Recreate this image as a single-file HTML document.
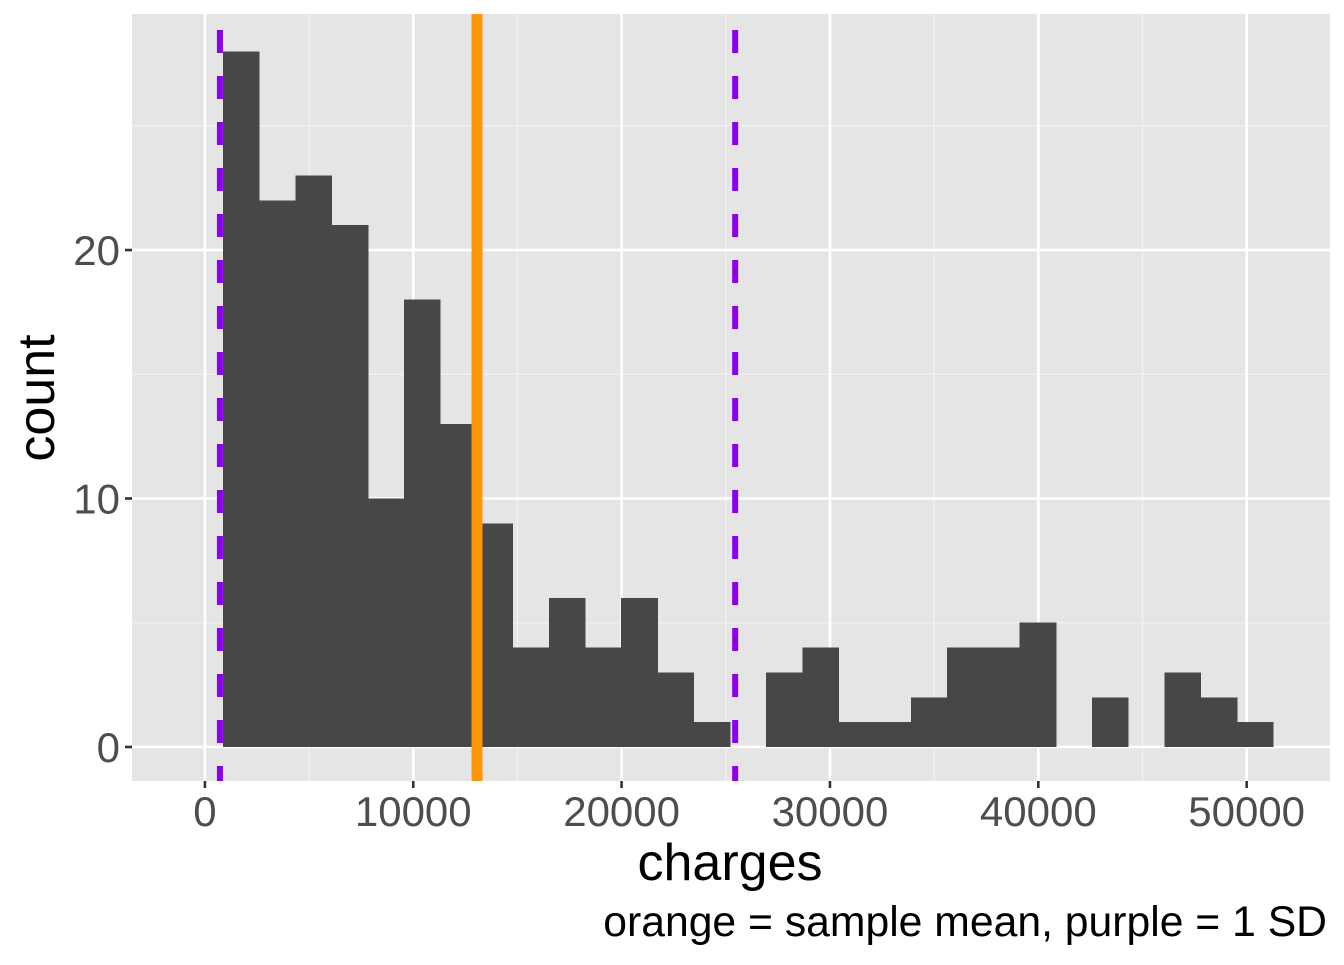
<!DOCTYPE html>
<html><head><meta charset="utf-8"><style>
body{margin:0;background:#fff;}
svg text{font-family:"Liberation Sans",Arial,sans-serif;}
</style></head><body>
<svg id="chart" width="1344" height="960" xmlns="http://www.w3.org/2000/svg">
<rect x="132" y="14" width="1198" height="767" fill="#e5e5e5"/>
<g id="grid"></g><g id="bars" shape-rendering="crispEdges"></g><g id="lines"></g><g id="axes"></g>
<text x="730" y="880" font-size="52" text-anchor="middle" fill="#000">charges</text>
<text transform="translate(54,398) rotate(-90)" font-size="52" text-anchor="middle" fill="#000">count</text>
<text x="1327" y="936" font-size="42.7" text-anchor="end" fill="#000">orange = sample mean, purple = 1 SD</text>
</svg>
<script>
const binStart = 864;
const binWidth = 1738;
const counts = [28,22,23,21,10,18,13,9,4,6,4,6,3,1,0,3,4,1,1,2,4,4,5,0,2,0,3,2,1];
const meanValue = 13060;
const sdLow = 720;
const sdHigh = 25450;
const xTicks = [0,10000,20000,30000,40000,50000];
const xMinor = [5000,15000,25000,35000,45000];
const yTicks = [0,10,20];
const yMinor = [5,15,25];

const NS="http://www.w3.org/2000/svg";
const X0=132,X1=1330,Y0=14,Y1=781;
const xMin=-3500,xMax=54000,yMin=-1.37,yMax=29.5;
const sx=v=>X0+(v-xMin)/(xMax-xMin)*(X1-X0);
const sy=v=>Y1-(v-yMin)/(yMax-yMin)*(Y1-Y0);
function mk(tag,attrs,parent){const e=document.createElementNS(NS,tag);for(const k in attrs)e.setAttribute(k,attrs[k]);document.getElementById(parent).appendChild(e);return e;}
xMinor.forEach(v=>{const e=mk('line',{x1:sx(v),x2:sx(v),y1:Y0,y2:Y1,stroke:'#f2f2f2','stroke-width':1.3},'grid');

});
yMinor.forEach(v=>{const e=mk('line',{x1:X0,x2:X1,y1:sy(v),y2:sy(v),stroke:'#f2f2f2','stroke-width':1.3},'grid');

});
xTicks.forEach(v=>{const e=mk('line',{x1:sx(v),x2:sx(v),y1:Y0,y2:Y1,stroke:'#fff','stroke-width':2.6},'grid');


const t=mk('line',{x1:sx(v),x2:sx(v),y1:Y1,y2:Y1+7,stroke:'#333','stroke-width':2.6},'axes');


const l=mk('text',{x:sx(v),y:826,'font-size':42,'text-anchor':'middle',fill:'#4d4d4d'},'axes');l.textContent=v;

});
yTicks.forEach(v=>{const e=mk('line',{x1:X0,x2:X1,y1:sy(v),y2:sy(v),stroke:'#fff','stroke-width':2.6},'grid');


const t=mk('line',{x1:X0-7,x2:X0,y1:sy(v),y2:sy(v),stroke:'#333','stroke-width':2.6},'axes');


const l=mk('text',{x:X0-12,y:sy(v)+15,'font-size':42,'text-anchor':'end',fill:'#4d4d4d'},'axes');l.textContent=v;

});
counts.forEach((c,i)=>{if(c<=0)return;const a=binStart+i*binWidth;
const r=mk('rect',{x:sx(a),y:sy(c),width:sx(a+binWidth)-sx(a)+0.5,height:sy(0)-sy(c),fill:'#474747'},'bars');

});
[sdLow,sdHigh].forEach(v=>{const e=mk('line',{x1:sx(v),x2:sx(v),y1:Y0,y2:Y1,stroke:'#8c00ee','stroke-width':6,'stroke-dasharray':'23 23','stroke-dashoffset':'-16'},'lines');

});
const m=mk('line',{x1:sx(meanValue),x2:sx(meanValue),y1:Y0,y2:Y1,stroke:'#ff960a','stroke-width':11},'lines');


</script>
</body></html>
